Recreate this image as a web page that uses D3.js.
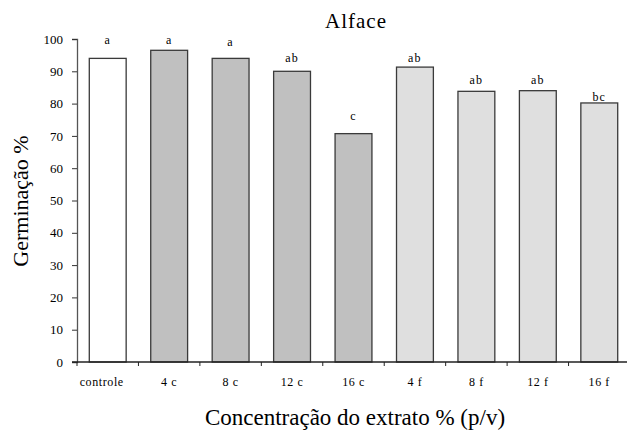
<!DOCTYPE html>
<html>
<head>
<meta charset="utf-8">
<script src="https://cdn.jsdelivr.net/npm/d3@7"></script>
<style>
  body { margin: 0; background: #fff; }
</style>
</head>
<body>
<div id="chart"></div>
<script>
// data
const categories = ['controle', '4 c', '8 c', '12 c', '16 c', '4 f', '8 f', '12 f', '16 f'];
const groups = ['controle', 'c', 'c', 'c', 'c', 'f', 'f', 'f', 'f'];
const germination = [94, 96.5, 94, 90, 70.7, 91.3, 83.8, 84, 80.2];
const letters = ['a', 'a', 'a', 'ab', 'c', 'ab', 'ab', 'ab', 'bc'];
const letterLevel = [98.5, 98.5, 97.8, 92.9, 74.9, 92.9, 86.1, 86.1, 80.8]; // where the letters sit (%)
const yTicks = [0, 10, 20, 30, 40, 50, 60, 70, 80, 90, 100];

const width = 627;
const height = 432;
const margin = {top: 39, right: -3, bottom: 70, left: 77};
const serif = 'Liberation Serif';

const svg = d3.select('#chart')
  .append('svg')
    .attr('width', width)
    .attr('height', height)
    .attr('font-family', serif);

const xScale = d3.scaleBand()
  .domain(categories)
  .range([margin.left, width - margin.right])
  .paddingInner(0.4)
  .paddingOuter(0.2);

const yScale = d3.scaleLinear()
  .domain([0, 100])
  .range([height - margin.bottom, margin.top]);

const fillScale = d3.scaleOrdinal()
  .domain(['controle', 'c', 'f'])
  .range(['#ffffff', '#c0c0c0', '#dfdfdf']);

// bars
svg.append('g')
  .selectAll('rect')
  .data(categories)
  .join('rect')
    .attr('x', d => xScale(d))
    .attr('y', (d, i) => yScale(germination[i]))
    .attr('width', xScale.bandwidth())
    .attr('height', (d, i) => yScale(0) - yScale(germination[i]))
    .attr('fill', (d, i) => fillScale(groups[i]))
    .attr('stroke', '#3a3a3a')
    .attr('stroke-width', 1.3);

// y axis
const yAxis = svg.append('g')
  .attr('transform', `translate(${margin.left},0)`)
  .call(d3.axisLeft(yScale).tickValues(yTicks).tickSize(5).tickPadding(9));
yAxis.attr('font-family', serif).attr('font-size', 13);
yAxis.select('.domain').attr('stroke', '#555').attr('stroke-width', 1.3);
yAxis.selectAll('.tick line').attr('stroke', '#333');
yAxis.selectAll('.tick text').attr('fill', '#000');

// x axis (ticks between categories)
const step = xScale.step();
const boundaries = d3.range(categories.length).map(i => margin.left + i * step);
const xAxis = svg.append('g')
  .attr('transform', `translate(0,${yScale(0)})`);
xAxis.append('line')
  .attr('x1', margin.left - 5)
  .attr('x2', width)
  .attr('stroke', '#222')
  .attr('stroke-width', 1.3);
xAxis.selectAll('.xtick')
  .data(boundaries)
  .join('line')
    .attr('class', 'xtick')
    .attr('x1', d => d)
    .attr('x2', d => d)
    .attr('y1', 0)
    .attr('y2', 4)
    .attr('stroke', '#222');
xAxis.selectAll('.xlabel')
  .data(categories)
  .join('text')
    .attr('class', 'xlabel')
    .attr('x', d => xScale(d) + xScale.bandwidth() / 2)
    .attr('dx', (d, i) => i === 0 ? -6 : 0)
    .attr('y', 24)
    .attr('text-anchor', 'middle')
    .attr('font-size', 12)
    .attr('letter-spacing', 0.6)
    .text(d => d);

// significance letters
svg.append('g')
  .selectAll('text')
  .data(letters)
  .join('text')
    .attr('x', (d, i) => xScale(categories[i]) + xScale.bandwidth() / 2)
    .attr('y', (d, i) => yScale(letterLevel[i]))
    .attr('text-anchor', 'middle')
    .attr('font-size', 12)
    .attr('letter-spacing', 1.2)
    .text(d => d);

// title and axis titles
svg.append('text')
  .attr('x', 356)
  .attr('y', 28)
  .attr('text-anchor', 'middle')
  .attr('font-size', 21)
  .attr('letter-spacing', 1)
  .text('Alface');

svg.append('text')
  .attr('x', 355)
  .attr('y', 425)
  .attr('text-anchor', 'middle')
  .attr('font-size', 23)
  .text('Concentração do extrato % (p/v)');

svg.append('text')
  .attr('transform', 'translate(28,201) rotate(-90)')
  .attr('text-anchor', 'middle')
  .attr('font-size', 22)
  .text('Germinação %');
</script>
</body>
</html>
